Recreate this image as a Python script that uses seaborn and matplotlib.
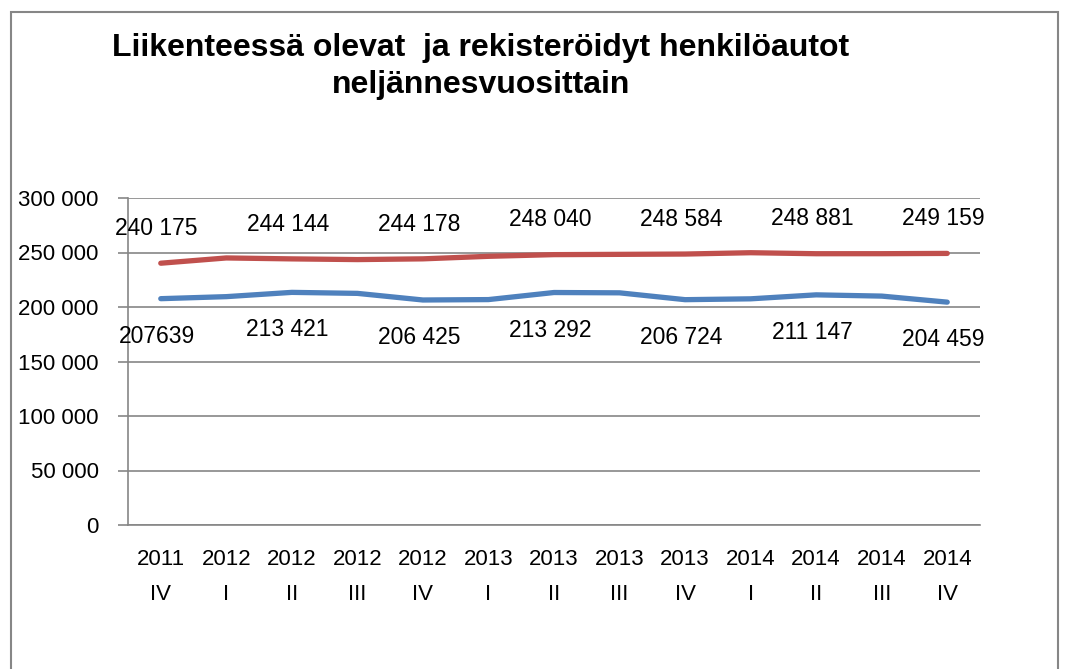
import seaborn as sns
import matplotlib.pyplot as plt
import pandas as pd
from matplotlib.ticker import FuncFormatter, FixedLocator
from matplotlib.patches import Rectangle

# quarters shown on the x axis
years = ["2011", "2012", "2012", "2012", "2012", "2013", "2013", "2013", "2013",
         "2014", "2014", "2014", "2014"]
quarters = ["IV", "I", "II", "III", "IV", "I", "II", "III", "IV", "I", "II", "III", "IV"]

# registered cars (red) and cars in traffic (blue)
registered = [240175, 245000, 244144, 243500, 244178, 246500, 248040, 248300,
              248584, 249800, 248881, 248900, 249159]
in_traffic = [207639, 209500, 213421, 212500, 206425, 206800, 213292, 213000,
              206724, 207500, 211147, 210000, 204459]

# data labels as printed on the chart (every second point)
registered_labels = ["240 175", "", "244 144", "", "244 178", "", "248 040", "",
                     "248 584", "", "248 881", "", "249 159"]
in_traffic_labels = ["207639", "", "213 421", "", "206 425", "", "213 292", "",
                     "206 724", "", "211 147", "", "204 459"]

sns.set_style("white")
plt.rcParams['font.family'] = ['Liberation Sans', 'DejaVu Sans']
plt.rcParams['text.color'] = 'black'
plt.rcParams['xtick.color'] = 'black'
plt.rcParams['ytick.color'] = 'black'

idx = list(range(len(years)))
df = pd.DataFrame({
    "i": idx * 2,
    "value": registered + in_traffic,
    "series": ["Rekisteröidyt"] * len(idx) + ["Liikenteessä"] * len(idx),
})

fig = plt.figure(figsize=(10.65, 6.69), dpi=100)
ax = fig.add_axes([128 / 1065, 1 - 525 / 669, (980 - 128) / 1065, (525 - 198) / 669])

sns.lineplot(data=df, x="i", y="value", hue="series",
             palette={"Rekisteröidyt": "#C0504D", "Liikenteessä": "#4F81BD"},
             linewidth=3.8, legend=False, ax=ax, solid_capstyle="round")

gray = "#868686"
ax.set_xlim(-0.5, len(idx) - 0.5)
ax.set_ylim(0, 300000)
ax.yaxis.set_major_locator(FixedLocator(range(0, 300001, 50000)))
ax.yaxis.set_major_formatter(FuncFormatter(lambda v, p: f"{int(v):,}".replace(",", " ")))
ax.grid(axis="y", color=gray, linewidth=1.2)
ax.set_axisbelow(True)

# category boundaries get ticks, centres get labels
ax.xaxis.set_major_locator(FixedLocator([i - 0.5 for i in range(len(idx) + 1)]))
ax.xaxis.set_major_formatter(FuncFormatter(lambda v, p: ""))
ax.set_xticks(idx, minor=True)
ax.set_xticklabels([f"{y}\n{q}" for y, q in zip(years, quarters)], minor=True,
                   fontsize=16, linespacing=1.9)
ax.tick_params(axis="x", which="major", length=6, width=1.2, color=gray, direction="out")
ax.tick_params(axis="x", which="minor", length=0, pad=17)
ax.tick_params(axis="y", length=7, width=1.2, color=gray, labelsize=16, pad=14, left=True)
ax.set_xlabel("")
ax.set_ylabel("")

for s in ["top", "right"]:
    ax.spines[s].set_visible(False)
for s in ["left", "bottom"]:
    ax.spines[s].set_color(gray)
    ax.spines[s].set_linewidth(1.2)

for i in idx:
    if registered_labels[i]:
        ax.annotate(registered_labels[i], (i, registered[i]), xytext=(-3, 25),
                    textcoords="offset points", ha="center", va="center", fontsize=16.5)
    if in_traffic_labels[i]:
        ax.annotate(in_traffic_labels[i], (i, in_traffic[i]), xytext=(-3, -27),
                    textcoords="offset points", ha="center", va="center", fontsize=16.5)

fig.text(481 / 1065, 1 - 48 / 669, "Liikenteessä olevat  ja rekisteröidyt henkilöautot",
         ha="center", va="center", fontsize=23, fontweight="bold")
fig.text(481 / 1065, 1 - 85 / 669, "neljännesvuosittain",
         ha="center", va="center", fontsize=23, fontweight="bold")

# outer chart border
fig.patches.append(Rectangle((11 / 1065, -0.05), (1058 - 11) / 1065, 1.05 - 12 / 669,
                             transform=fig.transFigure, fill=False,
                             edgecolor=gray, linewidth=1.5))

fig.savefig("out.png", dpi=100)
